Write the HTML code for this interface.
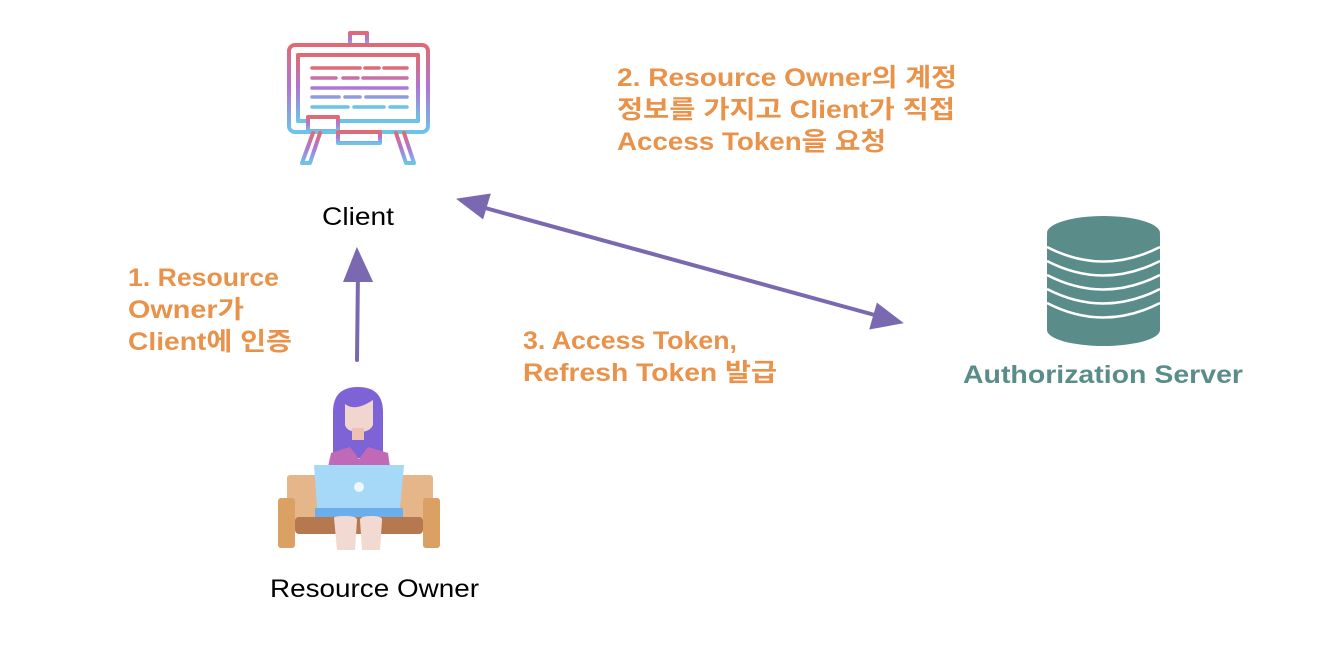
<!DOCTYPE html>
<html><head><meta charset="utf-8"><style>
html,body{margin:0;padding:0;background:#fff;width:1336px;height:650px;overflow:hidden}
svg{display:block}
text{font-family:"Liberation Sans","Noto Sans CJK KR",sans-serif}
.o{fill:#e8924a;font-weight:bold;font-size:25px}
</style></head><body>
<svg width="1336" height="650" viewBox="0 0 1336 650">
<defs>
<linearGradient id="g" x1="0" y1="0" x2="0" y2="1">
<stop offset="0" stop-color="#e06a72"/><stop offset="0.5" stop-color="#b075d6"/><stop offset="1" stop-color="#6cc4e8"/></linearGradient>
</defs>
<g fill="none" stroke="url(#g)" stroke-width="4" stroke-linecap="round" stroke-linejoin="round">
<rect x="350" y="33" width="17" height="12"/>
<rect x="289" y="45" width="139" height="87" rx="6"/>
<rect x="298" y="55" width="120" height="66"/>
<rect x="308" y="117" width="30" height="14" fill="#fff"/>
<rect x="338" y="132" width="42" height="11"/>
<path d="M313 133 L302 163 L310 163 L320 133 M396 133 L406 163 L414 163 L404 133"/>
<path stroke-width="3.5" d="M312 68h48M365 68h14M384 68h23M312 78h24M343 78h15M363 78h44M312 88h95M312 97h27M345 97h15M366 97h41M312 107h36M354 107h30M390 107h17"/>
</g>
<text x="322" y="225" font-size="25" fill="#000" textLength="72" lengthAdjust="spacingAndGlyphs">Client</text>
<text class="o" x="617" y="86" textLength="340" lengthAdjust="spacingAndGlyphs">2. Resource Owner의 계정</text>
<text class="o" x="617" y="118" textLength="338" lengthAdjust="spacingAndGlyphs">정보를 가지고 Client가 직접</text>
<text class="o" x="617" y="150" textLength="269" lengthAdjust="spacingAndGlyphs">Access Token을 요청</text>
<text class="o" x="128" y="286" textLength="151" lengthAdjust="spacingAndGlyphs">1. Resource</text>
<text class="o" x="128" y="318" textLength="116" lengthAdjust="spacingAndGlyphs">Owner가</text>
<text class="o" x="128" y="350" textLength="164" lengthAdjust="spacingAndGlyphs">Client에 인증</text>
<text class="o" x="523" y="349" textLength="214" lengthAdjust="spacingAndGlyphs">3. Access Token,</text>
<text class="o" x="523" y="381" textLength="254" lengthAdjust="spacingAndGlyphs">Refresh Token 발급</text>
<g stroke="#7a68b0" stroke-width="4" fill="#7a68b0" stroke-linecap="round">
<path d="M357 360 L358 270" fill="none"/>
<path d="M346 280 L357 252 L370 280 Z"/>
<path d="M478 206 L882 317" fill="none"/>
<path d="M461 200 L488 196 L482 216 Z"/>
<path d="M899 322 L872 327 L878 306 Z"/>
</g>
<g>
<rect x="1047" y="233" width="113" height="97" fill="#5a8d8a"/>
<ellipse cx="1103.5" cy="330" rx="56.5" ry="16" fill="#5a8d8a"/>
<g fill="none" stroke="#fff" stroke-width="2.5">
<path d="M1047 233 Q1103 262 1160 233"/>
<path d="M1047 247 Q1103 276 1160 247"/>
<path d="M1047 261 Q1103 290 1160 261"/>
<path d="M1047 275 Q1103 304 1160 275"/>
<path d="M1047 289 Q1103 318 1160 289"/>
<path d="M1047 303 Q1103 332 1160 303"/>
</g>
<ellipse cx="1103.5" cy="233" rx="56.5" ry="17" fill="#5a8d8a"/>
</g>
<text x="963" y="383" font-size="25" font-weight="bold" fill="#5a8d8a" textLength="280" lengthAdjust="spacingAndGlyphs">Authorization Server</text>
<g>
<path d="M333 412 Q333 387 358 387 Q383 387 383 412 L383 458 L333 458 Z" fill="#7e63d6"/>
<path d="M345 404 Q355 412 373 400 L373 425 Q370 432 359 432 Q347 432 345 425 Z" fill="#f1d6cf"/>
<rect x="352" y="428" width="12" height="12" fill="#eec1b3"/>
<path d="M331 453 L350 447 L359 459 L368 447 L388 453 L390 467 L328 467 Z" fill="#c06ab7"/>
<rect x="287" y="475" width="146" height="45" rx="3" fill="#e4b68a"/>
<rect x="278" y="498" width="17" height="50" rx="3" fill="#dba064"/>
<rect x="423" y="498" width="17" height="50" rx="3" fill="#dba064"/>
<rect x="295" y="517" width="128" height="17" rx="4" fill="#b5784f"/>
<path d="M314 465 L404 465 L400 508 L317 508 Z" fill="#a6d8f7"/>
<rect x="315" y="508" width="88" height="9" fill="#6aafec"/>
<circle cx="359" cy="487" r="5" fill="#eef7ff"/>
<path d="M334 518 Q334 516 346 516 Q357 516 357 520 L355 550 L337 550 Z" fill="#f2d9d2"/>
<path d="M360 520 Q360 516 371 516 Q383 516 382 520 L380 550 L362 550 Z" fill="#f2d9d2"/>
</g>
<text x="270" y="597" font-size="25" fill="#000" textLength="209" lengthAdjust="spacingAndGlyphs">Resource Owner</text>
</svg>
</body></html>
